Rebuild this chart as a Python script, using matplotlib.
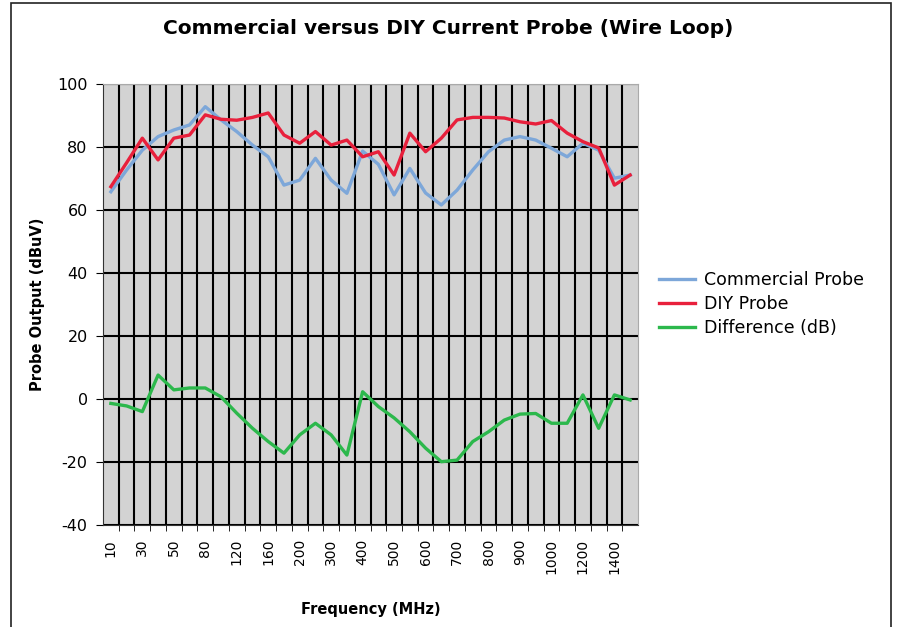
import matplotlib
matplotlib.use("Agg")
import matplotlib.pyplot as plt
from matplotlib.patches import Rectangle
from matplotlib.ticker import FixedLocator, MultipleLocator

plt.rcParams["axes.unicode_minus"] = False

# frequency categories (MHz), only every other one is labelled
freqs = [10, 20, 30, 40, 50, 60, 80, 100, 120, 140, 160, 180, 200, 250, 300, 350,
         400, 450, 500, 550, 600, 650, 700, 750, 800, 850, 900, 950, 1000, 1100,
         1200, 1300, 1400, 1500]

commercial = [65.8, 72.7, 79.0, 83.3, 85.4, 87.0, 92.8, 88.6, 84.9, 80.6, 76.9, 67.9,
              69.5, 76.4, 69.5, 65.3, 78.7, 74.5, 64.8, 73.2, 65.4, 61.6, 66.3, 72.7,
              78.5, 82.2, 83.3, 82.2, 79.6, 76.9, 81.2, 79.0, 70.1, 71.1]
diy = [67.4, 75.0, 82.8, 75.9, 82.8, 83.8, 90.2, 88.8, 88.5, 89.4, 90.8, 83.8,
       81.2, 84.9, 80.6, 82.2, 76.9, 78.5, 71.1, 84.4, 78.5, 82.8, 88.6, 89.4,
       89.4, 89.2, 88.0, 87.3, 88.4, 84.4, 81.7, 79.7, 67.9, 71.1]
difference = [-1.4, -2.2, -4.0, 7.6, 2.9, 3.5, 3.5, 0.7, -4.5, -9.3, -13.5, -17.2,
              -11.4, -7.7, -11.4, -17.8, 2.3, -2.4, -6.0, -10.4, -15.6, -19.9, -19.4,
              -13.5, -10.4, -6.7, -4.8, -4.6, -7.7, -7.7, 1.3, -9.3, 1.3, -0.3]

fig = plt.figure(figsize=(8.97, 6.27), dpi=100)
fig.patch.set_facecolor("white")

# outer chart frame
fig.patches.append(Rectangle((11 / 897, -0.1), 880 / 897, 1.1 - 3 / 627,
                             transform=fig.transFigure, fill=False,
                             edgecolor="#222222", linewidth=1.2))

ax = fig.add_axes([103 / 897, 1 - 525 / 627, 535 / 897, 441 / 627])
ax.set_facecolor("#d3d3d3")

x = list(range(len(freqs)))
ax.plot(x, commercial, color="#7da7d9", linewidth=2.4, label="Commercial Probe", zorder=3)
ax.plot(x, diy, color="#e8203c", linewidth=2.4, label="DIY Probe", zorder=3)
ax.plot(x, difference, color="#2cb84c", linewidth=2.4, label="Difference (dB)", zorder=3)

ax.set_xlim(-0.5, len(freqs) - 0.5)
ax.set_ylim(-40, 100)
ax.yaxis.set_major_locator(MultipleLocator(20))

ax.xaxis.set_major_locator(FixedLocator(x[::2]))
ax.set_xticklabels([str(f) for f in freqs[::2]], rotation=90, fontsize=10)
ax.xaxis.set_minor_locator(FixedLocator([i + 0.5 for i in x[:-1]]))
ax.tick_params(axis="x", which="major", length=0, pad=10)
ax.tick_params(axis="x", which="minor", length=4, direction="out")
ax.tick_params(axis="y", length=5, labelsize=11.5, pad=6)

ax.grid(True, axis="y", which="major", color="black", linewidth=1.5, zorder=1)
ax.grid(True, axis="x", which="minor", color="black", linewidth=1.5, zorder=1)
ax.set_axisbelow(True)

for side in ["top", "right"]:
    ax.spines[side].set_color("#aaaaaa")
ax.spines["left"].set_color("#333333")
ax.spines["bottom"].set_color("#333333")

ax.set_xlabel("Frequency (MHz)", fontsize=10.5, fontweight="bold", labelpad=20)
ax.set_ylabel("Probe Output (dBuV)", fontsize=10.5, fontweight="bold", labelpad=9)

fig.text(0.5, 1 - 28 / 627, "Commercial versus DIY Current Probe (Wire Loop)",
         ha="center", va="center", fontsize=14.5, fontweight="bold")

fig.legend(loc="center left", bbox_to_anchor=(643 / 897, 1 - 304 / 627),
           frameon=False, fontsize=12.5, handlelength=2.1, labelspacing=0.35,
           handletextpad=0.5)

fig.savefig("out.png", dpi=100)
